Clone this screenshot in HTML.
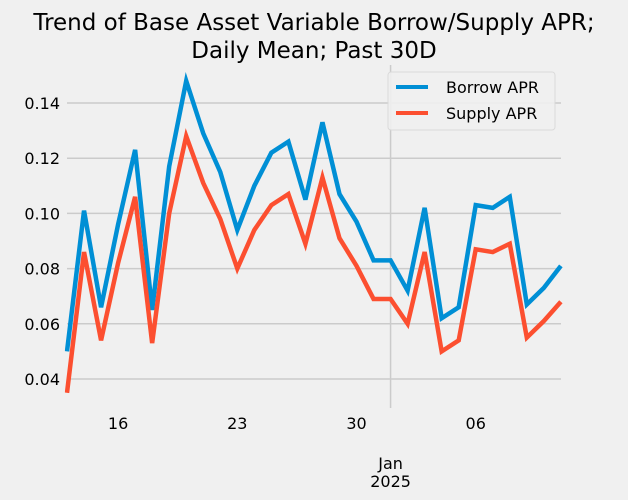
<!DOCTYPE html>
<html><head><meta charset="utf-8"><style>
body{margin:0;background:#f0f0f0;}
svg{display:block;font-family:"DejaVu Sans","Liberation Sans",sans-serif;}
</style></head><body>
<svg id="chart" width="628" height="500">
<rect width="628" height="500" fill="#f0f0f0"/>
<text x="314" y="30" text-anchor="middle" font-size="23" fill="#000">Trend of Base Asset Variable Borrow/Supply APR;</text>
<text x="314" y="58" text-anchor="middle" font-size="23" fill="#000">Daily Mean; Past 30D</text>
<g id="grid"></g><g id="axes"></g><g id="series"></g>
<g>
<rect x="388" y="72" width="167" height="58" rx="3" fill="#f0f0f0" stroke="#d8d8d8" opacity="0.9"/>
<line x1="396" y1="87" x2="428" y2="87" stroke="#008fd5" stroke-width="4"/>
<text x="446" y="93" font-size="16">Borrow APR</text>
<line x1="396" y1="113" x2="428" y2="113" stroke="#fc4f30" stroke-width="4"/>
<text x="446" y="119" font-size="16">Supply APR</text>
</g>
</svg>
<script>
const days = Array.from({length:30},(_,i)=>i); // Dec 13 .. Jan 11
const borrow = [0.050,0.101,0.066,0.096,0.123,0.065,0.117,0.148,0.129,0.115,0.094,0.110,0.122,0.126,0.105,0.133,0.107,0.097,0.083,0.083,0.072,0.102,0.062,0.066,0.103,0.102,0.106,0.067,0.073,0.081];
const supply = [0.035,0.086,0.054,0.082,0.106,0.053,0.100,0.128,0.111,0.098,0.080,0.094,0.103,0.107,0.089,0.113,0.091,0.081,0.069,0.069,0.060,0.086,0.050,0.054,0.087,0.086,0.089,0.055,0.061,0.068];
const yTicks = [0.04,0.06,0.08,0.10,0.12,0.14];
const yTickLabels = ["0.04","0.06","0.08","0.10","0.12","0.14"];
const xTickDays = [3,10,17,24];
const xTickLabels = ["16","23","30","06"];
const majorDay = 19;

const X0=67, DX=17.03;
const xs = d => X0 + d*DX;
const ys = v => 379 - (v-0.04)/0.02*55.2;
const NS="http://www.w3.org/2000/svg";
function mk(tag, parent, attrs){const e=document.createElementNS(NS,tag);for(const k in attrs)e.setAttribute(k,attrs[k]);document.getElementById(parent).appendChild(e);return e;}

yTicks.forEach((t,i)=>{
  const g=mk('line','grid',{x1:67,x2:561,y1:ys(t),y2:ys(t),stroke:'#cbcbcb','stroke-width':1.5});
  
  
  const l=mk('text','axes',{x:60,y:ys(t)+6,'text-anchor':'end','font-size':16});
  l.textContent=yTickLabels[i];
  
  
});
const vg=mk('line','grid',{x1:xs(majorDay),x2:xs(majorDay),y1:65,y2:408,stroke:'#cbcbcb','stroke-width':1.5});


xTickDays.forEach((d,i)=>{
  const l=mk('text','axes',{x:xs(d),y:429,'text-anchor':'middle','font-size':16});
  l.textContent=xTickLabels[i];
  
  
});
const j=mk('text','axes',{x:xs(majorDay),y:469,'text-anchor':'middle','font-size':16});
j.textContent='Jan';


const y2=mk('text','axes',{x:xs(majorDay),y:487,'text-anchor':'middle','font-size':16});
y2.textContent='2025';



function line(vals,color,name){
  const p=mk('polyline','series',{points:days.map(d=>xs(d)+','+ys(vals[d])).join(' '),fill:'none',stroke:color,'stroke-width':4.5,'stroke-linejoin':'miter'});
  
  
}
line(borrow,'#008fd5','borrow-apr-line');
line(supply,'#fc4f30','supply-apr-line');
</script>
<style>#series{clip-path:inset(0 0 0 0);}</style>
</body></html>
